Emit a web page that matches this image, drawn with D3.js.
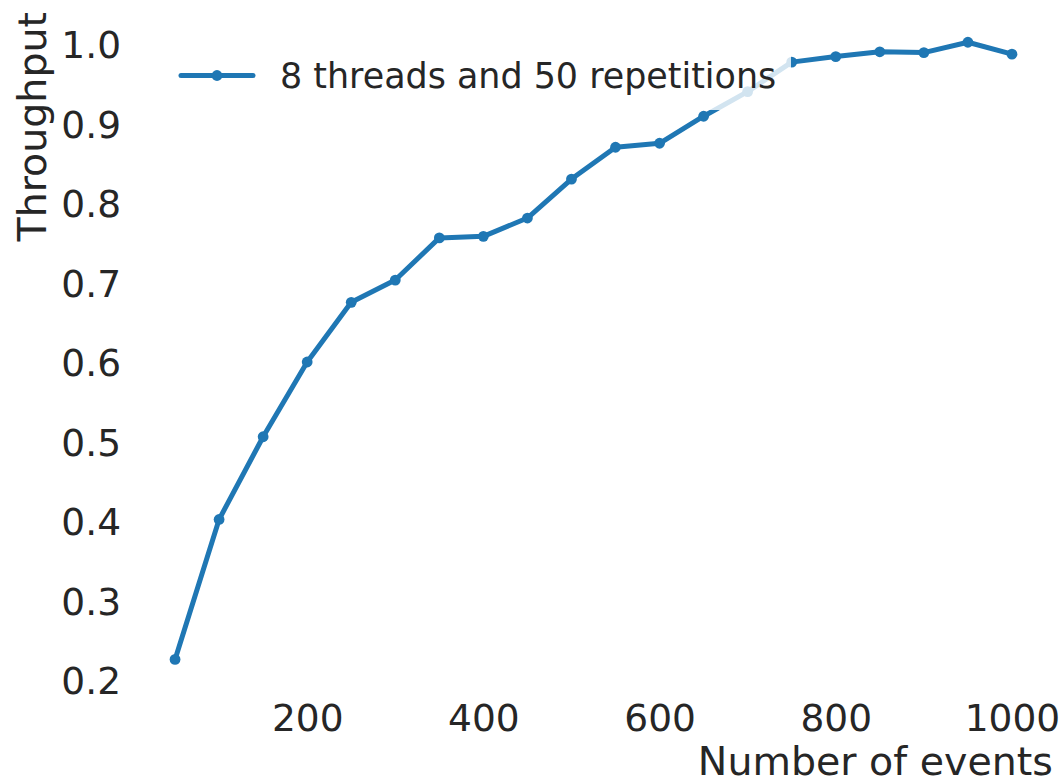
<!DOCTYPE html>
<html>
<head>
<meta charset="utf-8">
<script src="https://cdn.jsdelivr.net/npm/d3@7"></script>
<style>
  html, body { margin: 0; padding: 0; background: #fff; }
  svg { display: block; font-family: "DejaVu Sans", sans-serif; }
</style>
</head>
<body>
<svg id="chart" width="1064" height="779"></svg>
<script>
// ---- data ----
const events = [50, 100, 150, 200, 250, 300, 350, 400, 450, 500,
                550, 600, 650, 700, 750, 800, 850, 900, 950, 1000];
const throughput = [0.226, 0.402, 0.506, 0.600, 0.675, 0.703, 0.756, 0.758, 0.781, 0.830,
                    0.870, 0.875, 0.909, 0.940, 0.977, 0.984, 0.990, 0.989, 1.002, 0.987];
const xTicks = [200, 400, 600, 800, 1000];
const yTicks = [0.2, 0.3, 0.4, 0.5, 0.6, 0.7, 0.8, 0.9, 1.0];
const seriesName = "8 threads and 50 repetitions";
const xLabel = "Number of events";
const yLabel = "Throughput";

// ---- layout ----
const W = 1064, H = 779;
const plot = { left: 133.2, right: 1053.8, top: 11.4, bottom: 690.3 };
const color = "#1f77b4";
const textColor = "#262626";
const tickFont = "37.5px";

function padded(ext) {
  const m = (ext[1] - ext[0]) * 0.05;
  return [ext[0] - m, ext[1] + m];
}

const x = d3.scaleLinear().domain(padded(d3.extent(events))).range([plot.left, plot.right]);
const y = d3.scaleLinear().domain(padded(d3.extent(throughput))).range([plot.bottom, plot.top]);

const svg = d3.select("#chart");
svg.append("rect").attr("width", W).attr("height", H).attr("fill", "#fff");

const data = events.map((e, i) => ({ x: e, y: throughput[i] }));

// ---- axes (no spines, no tick marks) ----
const xAxis = d3.axisBottom(x).tickValues(xTicks).tickFormat(d3.format("d")).tickSize(0).tickPadding(0);
const gx = svg.append("g").attr("transform", `translate(0,${plot.bottom})`).call(xAxis);
gx.select(".domain").remove();
gx.selectAll("text")
  .attr("y", 40.5).attr("dy", null)
  .attr("font-size", tickFont).attr("fill", textColor)
  .attr("font-family", "DejaVu Sans");

const yAxis = d3.axisLeft(y).tickValues(yTicks).tickFormat(d3.format(".1f")).tickSize(0).tickPadding(0);
const gy = svg.append("g").attr("transform", `translate(121,0)`).call(yAxis);
gy.select(".domain").remove();
gy.selectAll("text")
  .attr("x", 0).attr("dy", "0.3645em")
  .attr("font-size", tickFont).attr("fill", textColor)
  .attr("font-family", "DejaVu Sans");

// axis labels
svg.append("text")
  .attr("x", plot.right - 1).attr("y", 775)
  .attr("text-anchor", "end")
  .attr("font-size", "39.5px").attr("fill", textColor)
  .text(xLabel);

svg.append("text")
  .attr("transform", `translate(46,12) rotate(-90)`)
  .attr("text-anchor", "end")
  .attr("font-size", "39.5px").attr("fill", textColor)
  .text(yLabel);

// ---- series ----
const line = d3.line().x(d => x(d.x)).y(d => y(d.y));
svg.append("path")
  .datum(data)
  .attr("d", line)
  .attr("fill", "none")
  .attr("stroke", color)
  .attr("stroke-width", 5)
  .attr("stroke-linejoin", "round")
  .attr("stroke-linecap", "round");

svg.append("g").selectAll("circle")
  .data(data).join("circle")
  .attr("cx", d => x(d.x)).attr("cy", d => y(d.y))
  .attr("r", 5.4).attr("fill", color);

// ---- legend (semi-transparent white box) ----
const leg = svg.append("g");
leg.append("rect")
  .attr("x", 166).attr("y", 41).attr("width", 625).attr("height", 69)
  .attr("rx", 5)
  .attr("fill", "#fff").attr("fill-opacity", 0.8);
leg.append("line")
  .attr("x1", 181).attr("x2", 253).attr("y1", 75.5).attr("y2", 75.5)
  .attr("stroke", color).attr("stroke-width", 5).attr("stroke-linecap", "round");
leg.append("circle").attr("cx", 217).attr("cy", 75.5).attr("r", 5.4).attr("fill", color);
leg.append("text")
  .attr("x", 280).attr("y", 87.5)
  .attr("font-size", "34.9px").attr("fill", textColor)
  .text(seriesName);
</script>
</body>
</html>
